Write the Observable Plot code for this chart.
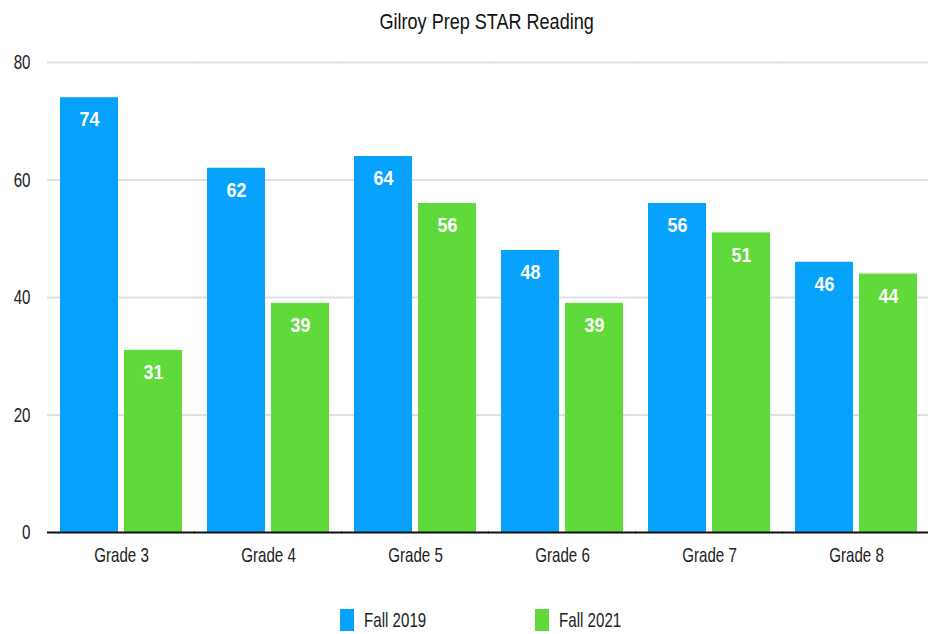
<!DOCTYPE html>
<html>
<head>
<meta charset="utf-8">
<script src="https://cdn.jsdelivr.net/npm/d3@7"></script>
<script src="https://cdn.jsdelivr.net/npm/@observablehq/plot@0.6"></script>
<style>
  html, body { margin: 0; padding: 0; background: #fff; }
  body { width: 928px; height: 634px; position: relative; overflow: hidden;
         font-family: "Liberation Sans", Arial, sans-serif; color: #222; }
  #title { height: 44px; line-height: 44px; text-align: center; font-size: 22px; color: #111; padding-left: 46px; }
  #title span { display: inline-block; transform: scaleX(0.82); transform-origin: 50% 50%; }
  #legend { position: absolute; left: 0; top: 608px; width: 928px; height: 24px; font-size: 21px; color: #222; }
  .sw { position: absolute; top: 1px; width: 14px; height: 22px; }
  .lt { position: absolute; top: 0; line-height: 24px; white-space: nowrap; transform: scaleX(0.72); transform-origin: 0 50%; }
</style>
</head>
<body>
<div id="title"><span>Gilroy Prep STAR Reading</span></div>
<div id="chart"></div>
<div id="legend"></div>
<script>
const grades = ["Grade 3", "Grade 4", "Grade 5", "Grade 6", "Grade 7", "Grade 8"];
const series = ["Fall 2019", "Fall 2021"];
const fall2019 = [74, 62, 64, 48, 56, 46];
const fall2021 = [31, 39, 56, 39, 51, 44];
const yTicks = [0, 20, 40, 60, 80];
const colors = ["#06a2fc", "#60d93a"];

const data = [];
grades.forEach((g, i) => {
  data.push({grade: g, series: series[0], value: fall2019[i]});
  data.push({grade: g, series: series[1], value: fall2021[i]});
});

const chart = Plot.plot({
  width: 928,
  height: 528,
  marginTop: 18,
  marginLeft: 46,
  marginRight: 8,
  marginBottom: 40,
  style: {fontFamily: '"Liberation Sans", Arial, sans-serif', fontSize: "21px", color: "#222", background: "#fff"},
  fx: {domain: grades, paddingInner: 0.156, paddingOuter: 0.0476, align: 0.857, label: null, axis: "bottom", tickSize: 0, tickPadding: 15},
  x: {domain: series, paddingInner: 0.09, paddingOuter: 0, axis: null},
  y: {domain: [0, 80], ticks: yTicks, label: null, tickSize: 0, tickPadding: 29},
  color: {domain: series, range: colors},
  marks: [
    Plot.ruleY(yTicks.filter(t => t > 0), {stroke: "#e0e0e0", strokeWidth: 2, insetLeft: -12, insetRight: -12}),
    Plot.barY(data, {fx: "grade", x: "series", y: "value", fill: "series"}),
    Plot.ruleY([0], {stroke: "#111", strokeWidth: 2, insetLeft: -12, insetRight: -12}),
    Plot.text(data, {fx: "grade", x: "series", y: "value", text: d => String(d.value), dy: 22, fill: "white", fontWeight: "bold", fontSize: 21})
  ]
});
document.getElementById("chart").appendChild(chart);

// condense glyphs horizontally to match the narrow lettering of the original
chart.querySelectorAll("text").forEach(t => {
  const bold = t.closest('g[aria-label="text"]') !== null;
  const f = bold ? 0.85 : 0.72;
  const L = t.getComputedTextLength();
  if (L > 0) {
    t.setAttribute("textLength", (L * f).toFixed(2));
    t.setAttribute("lengthAdjust", "spacingAndGlyphs");
  }
});

const legend = document.getElementById("legend");
const legendX = [340, 535];
series.forEach((s, i) => {
  const sw = document.createElement("div");
  sw.className = "sw";
  sw.style.left = legendX[i] + "px";
  sw.style.background = colors[i];
  legend.appendChild(sw);
  const t = document.createElement("div");
  t.className = "lt";
  t.style.left = (legendX[i] + 24) + "px";
  t.textContent = s;
  legend.appendChild(t);
});
</script>
</body>
</html>
